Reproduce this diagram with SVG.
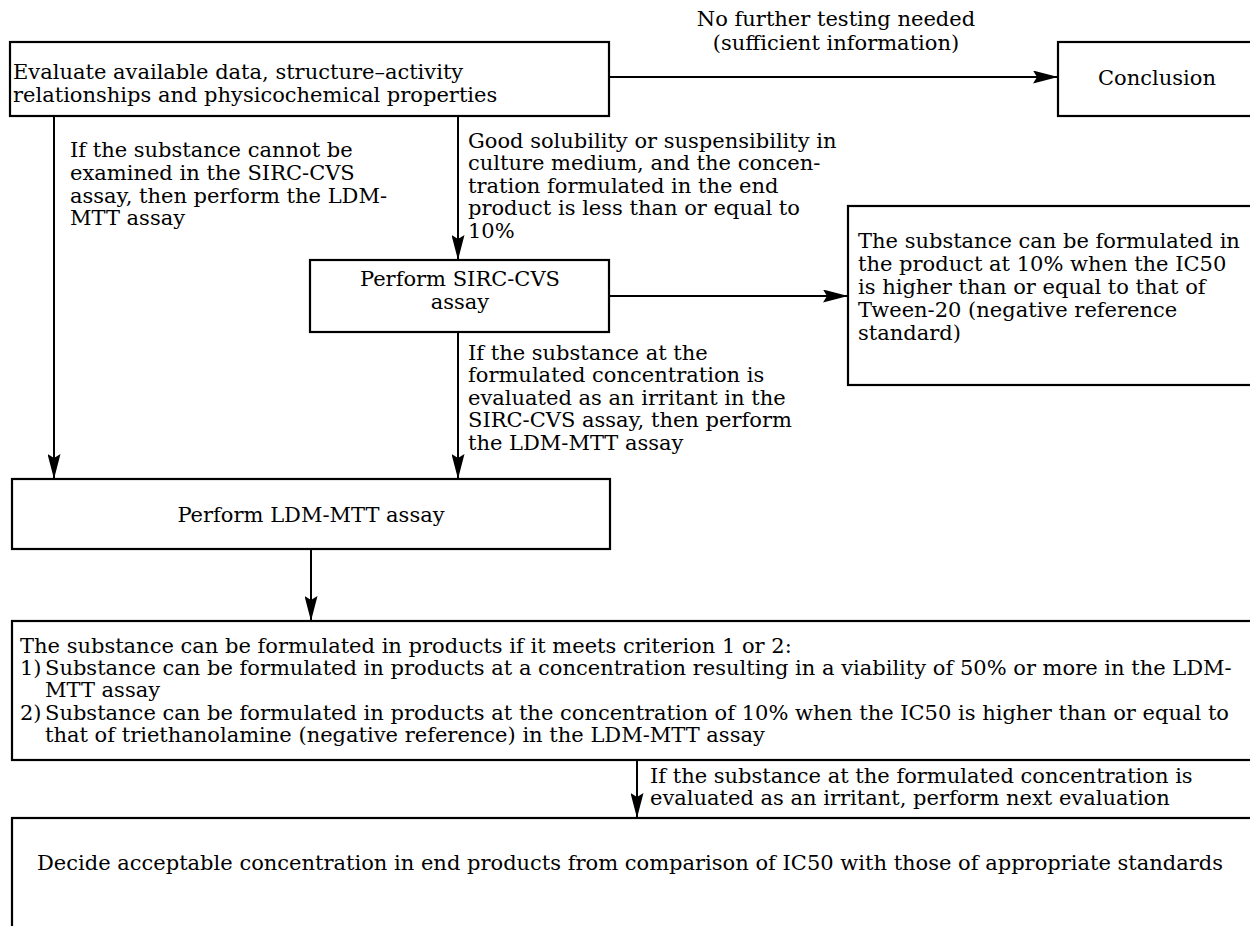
<svg xmlns="http://www.w3.org/2000/svg" width="1250" height="926" viewBox="0 0 1250 926">
<style>
text{font-family:"DejaVu Serif","Liberation Serif",serif;font-size:21px;fill:#000}
.c{text-anchor:middle}
.box{fill:#fff;stroke:#000;stroke-width:2.2}
.ln{fill:none;stroke:#000;stroke-width:2}
</style>
<defs>
<marker id="ah" viewBox="0 0 25 13" refX="25" refY="6.5" markerWidth="25" markerHeight="13" orient="auto" markerUnits="userSpaceOnUse">
<path d="M0,0 L25,6.5 L0,13 L4,6.5 z" fill="#000"/>
</marker>
</defs>
<rect width="1250" height="926" fill="#fff"/>
<g id="connectors">
<path class="ln" d="M609,77 H1058" marker-end="url(#ah)"/>
<path class="ln" d="M54,116 V479" marker-end="url(#ah)"/>
<path class="ln" d="M458,116 V260" marker-end="url(#ah)"/>
<path class="ln" d="M609,296 H848" marker-end="url(#ah)"/>
<path class="ln" d="M458,332 V479" marker-end="url(#ah)"/>
<path class="ln" d="M311,549 V621" marker-end="url(#ah)"/>
<path class="ln" d="M637,760 V818" marker-end="url(#ah)"/>
</g>
<g id="labels">
<text class="c" x="836" y="26">No further testing needed</text>
<text class="c" x="836" y="50">(sufficient information)</text>
<text x="70" y="157">If the substance cannot be</text>
<text x="70" y="180">examined in the SIRC-CVS</text>
<text x="70" y="203">assay, then perform the LDM-</text>
<text x="70" y="225">MTT assay</text>
<text x="468" y="148">Good solubility or suspensibility in</text>
<text x="468" y="170">culture medium, and the concen-</text>
<text x="468" y="193">tration formulated in the end</text>
<text x="468" y="215">product is less than or equal to</text>
<text x="468" y="238">10%</text>
<text x="468" y="360">If the substance at the</text>
<text x="468" y="382">formulated concentration is</text>
<text x="468" y="405">evaluated as an irritant in the</text>
<text x="468" y="427">SIRC-CVS assay, then perform</text>
<text x="468" y="450">the LDM-MTT assay</text>
<text x="650" y="783">If the substance at the formulated concentration is</text>
<text x="650" y="805">evaluated as an irritant, perform next evaluation</text>
</g>
<g id="evaluate">
<rect class="box" x="10" y="42" width="599" height="74"/>
<text x="13" y="79">Evaluate available data, structure–activity</text>
<text x="13" y="102">relationships and physicochemical properties</text>
</g>
<g id="conclusion">
<rect class="box" x="1058" y="42" width="210" height="74"/>
<text class="c" x="1157" y="85">Conclusion</text>
</g>
<g id="sirc">
<rect class="box" x="310" y="260" width="299" height="72"/>
<text class="c" x="460" y="286">Perform SIRC-CVS</text>
<text class="c" x="460" y="309">assay</text>
</g>
<g id="tween">
<rect class="box" x="848" y="206" width="420" height="179"/>
<text x="858" y="248">The substance can be formulated in</text>
<text x="858" y="271">the product at 10% when the IC50</text>
<text x="858" y="294">is higher than or equal to that of</text>
<text x="858" y="317">Tween-20 (negative reference</text>
<text x="858" y="340">standard)</text>
</g>
<g id="ldm">
<rect class="box" x="12" y="479" width="598" height="70"/>
<text class="c" x="311" y="522">Perform LDM-MTT assay</text>
</g>
<g id="criteria">
<rect class="box" x="12" y="621" width="1256" height="139"/>
<text x="20" y="653">The substance can be formulated in products if it meets criterion 1 or 2:</text>
<text x="20" y="675">1)</text>
<text x="45" y="675">Substance can be formulated in products at a concentration resulting in a viability of 50% or more in the LDM-</text>
<text x="45" y="697">MTT assay</text>
<text x="20" y="720">2)</text>
<text x="45" y="720">Substance can be formulated in products at the concentration of 10% when the IC50 is higher than or equal to</text>
<text x="45" y="742">that of triethanolamine (negative reference) in the LDM-MTT assay</text>
</g>
<g id="decide">
<rect class="box" x="12" y="818" width="1256" height="130"/>
<text class="c" x="630" y="870">Decide acceptable concentration in end products from comparison of IC50 with those of appropriate standards</text>
</g>
</svg>
